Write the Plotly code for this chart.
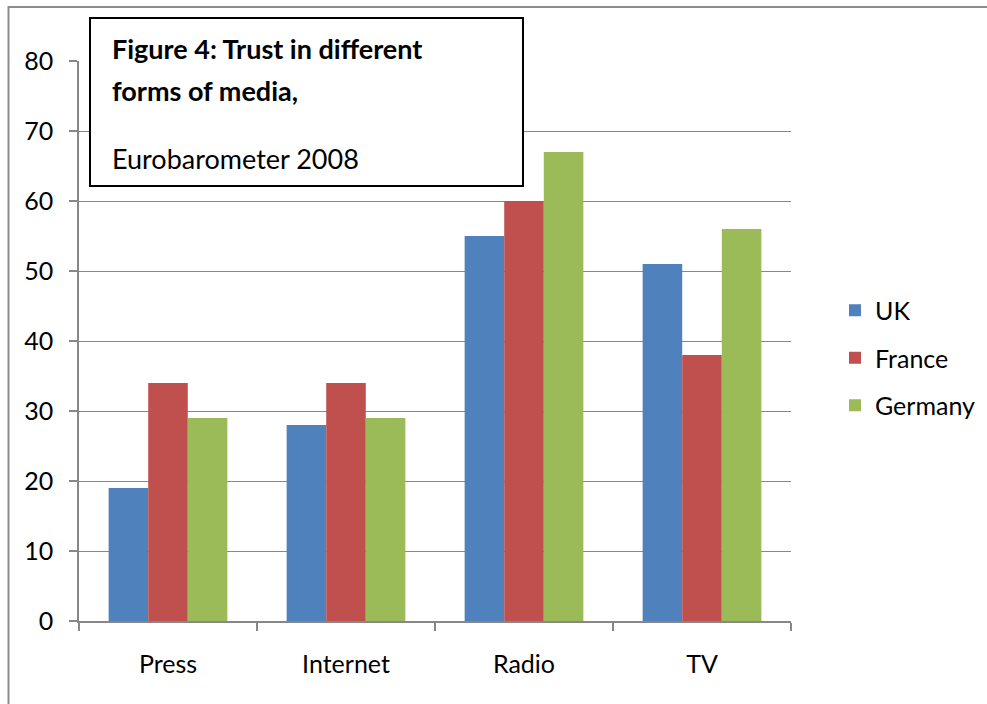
import plotly.graph_objects as go

# Trust in different forms of media, Eurobarometer 2008 (%)
media = ["Press", "Internet", "Radio", "TV"]
uk = [19, 28, 55, 51]
france = [34, 34, 60, 38]
germany = [29, 29, 67, 56]
y_ticks = [0, 10, 20, 30, 40, 50, 60, 70, 80]

series = [("UK", uk, "#4F81BD"), ("France", france, "#C0504D"), ("Germany", germany, "#9BBB59")]

FONT = "Lato"
GRID = "#878787"

W, H = 987, 704
L, R, T, B = 79, 196, 61, 83
PW, PH = W - L - R, H - T - B


def px_x(px):
    return (px - L) / PW


def px_y(py):
    return (H - B - py) / PH


fig = go.Figure()
for name, vals, color in series:
    fig.add_trace(go.Bar(
        x=media, y=vals, name=name, legendgroup=name,
        marker=dict(color=color, line=dict(width=0)),
    ))

fig.update_layout(
    width=W, height=H,
    margin=dict(l=L, r=R, t=T, b=B, pad=0, autoexpand=False),
    paper_bgcolor="white", plot_bgcolor="white",
    barmode="group", bargap=0.333, bargroupgap=0,
    font=dict(family=FONT, size=24, color="black"),
    showlegend=True,
    legend=dict(
        xref="container", yref="container",
        x=835 / W, y=1 - 358 / H, xanchor="left", yanchor="middle",
        traceorder="grouped", tracegroupgap=12,
        font=dict(family=FONT, size=25, color="black"),
        bgcolor="rgba(0,0,0,0)", itemclick=False,
    ),
    xaxis=dict(
        showgrid=False, zeroline=False, automargin=False,
        showline=True, linecolor=GRID, linewidth=1.5,
        ticks="outside", tickson="boundaries", ticklen=8, tickcolor=GRID, tickwidth=1.5,
        tickfont=dict(family=FONT, size=25), ticklabelstandoff=20,
    ),
    yaxis=dict(
        range=[0, 80], tickvals=y_ticks, automargin=False,
        showgrid=True, gridcolor=GRID, gridwidth=1,
        zeroline=False,
        showline=True, linecolor=GRID, linewidth=1.5,
        ticks="outside", ticklen=8, tickcolor=GRID, tickwidth=1.5,
        tickfont=dict(family=FONT, size=25), ticklabelstandoff=11,
    ),
    shapes=[
        # outer chart frame
        dict(type="rect", xref="paper", yref="paper",
             x0=px_x(8.5), x1=px_x(1100), y0=px_y(800), y1=px_y(7),
             line=dict(color="#8C8C8C", width=2), fillcolor="rgba(0,0,0,0)", layer="above"),
        # caption box
        dict(type="rect", xref="paper", yref="paper",
             x0=px_x(90), x1=px_x(523), y0=px_y(186), y1=px_y(18),
             line=dict(color="black", width=2), fillcolor="white", layer="above"),
    ],
    annotations=[
        dict(xref="paper", yref="paper", x=px_x(110), y=px_y(48), xanchor="left", yanchor="middle",
             text="<b>Figure 4: Trust in different</b>", showarrow=False,
             font=dict(family=FONT, size=27, color="black")),
        dict(xref="paper", yref="paper", x=px_x(110), y=px_y(90), xanchor="left", yanchor="middle",
             text="<b>forms of media,</b>", showarrow=False,
             font=dict(family=FONT, size=27, color="black")),
        dict(xref="paper", yref="paper", x=px_x(110), y=px_y(158), xanchor="left", yanchor="middle",
             text="Eurobarometer 2008", showarrow=False,
             font=dict(family=FONT, size=27, color="black")),
    ],
)

fig.write_html("out.html")
